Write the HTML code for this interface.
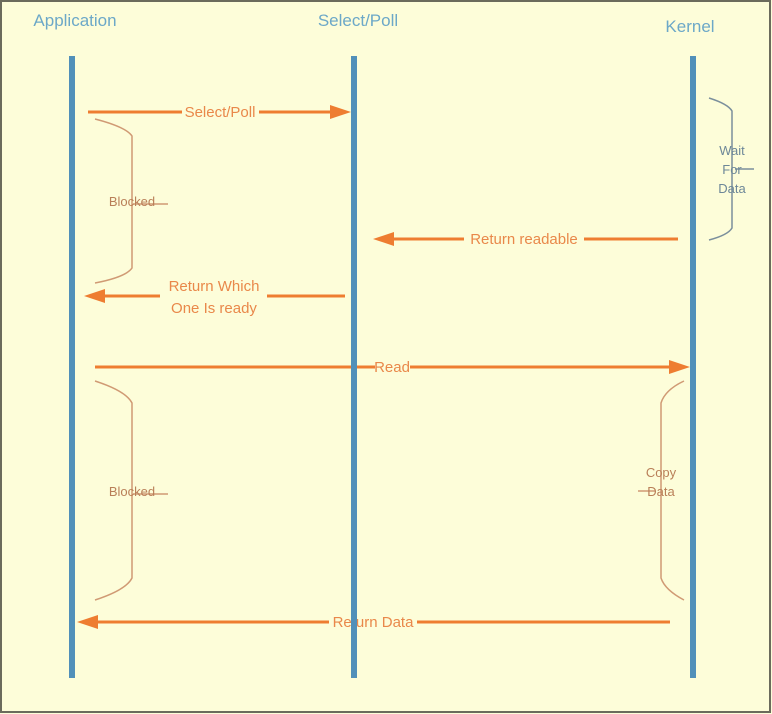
<!DOCTYPE html>
<html>
<head>
<meta charset="utf-8">
<style>
html,body{margin:0;padding:0;background:#fdfdd9;}
svg{display:block;}
text{font-family:"Liberation Sans",sans-serif;}
</style>
</head>
<body>
<svg width="772" height="714" viewBox="0 0 772 714" xmlns="http://www.w3.org/2000/svg">
  <rect x="0" y="0" width="772" height="714" fill="#fdfdd9"/>
  <rect x="1" y="1" width="769" height="711" fill="none" stroke="#6b6b5c" stroke-width="2"/>

  <!-- headers -->
  <text x="75" y="26" font-size="17" fill="#6ca8c8" text-anchor="middle">Application</text>
  <text x="358" y="26" font-size="17" fill="#6ca8c8" text-anchor="middle">Select/Poll</text>
  <text x="690" y="32" font-size="17" fill="#6ca8c8" text-anchor="middle">Kernel</text>

  <!-- braces -->
  <g fill="none" stroke="#d09a74" stroke-width="1.5">
    <path d="M95,119 Q126,127 132,136 L132,268 Q126,277 95,283"/>
    <path d="M95,381 Q126,391 132,403 L132,578 Q126,590 95,600"/>
    <path d="M684,381 Q665,390 661,403 L661,578 Q665,590 684,600"/>
    <line x1="133" y1="204" x2="168" y2="204"/>
    <line x1="133" y1="494" x2="168" y2="494"/>
    <line x1="638" y1="491" x2="655" y2="491"/>
  </g>
  <g fill="none" stroke="#7b8f9c" stroke-width="1.5">
    <path d="M709,98 Q728,104 732,111 L732,228 Q728,235 709,240"/>
    <line x1="735" y1="169" x2="754" y2="169"/>
  </g>
  <g font-size="13" fill="#b97f58" text-anchor="middle">
    <text x="132" y="206">Blocked</text>
    <text x="132" y="496">Blocked</text>
    <text x="661" y="477">Copy</text>
    <text x="661" y="496">Data</text>
  </g>
  <g font-size="13" fill="#6d8798" text-anchor="middle">
    <text x="732" y="155">Wait</text>
    <text x="732" y="174">For</text>
    <text x="732" y="193">Data</text>
  </g>

  <!-- arrows -->
  <g stroke="#ee7d31" stroke-width="3" fill="none">
    <line x1="88" y1="112" x2="182" y2="112"/>
    <line x1="259" y1="112" x2="332" y2="112"/>
    <line x1="392" y1="239" x2="464" y2="239"/>
    <line x1="584" y1="239" x2="678" y2="239"/>
    <line x1="102" y1="296" x2="160" y2="296"/>
    <line x1="267" y1="296" x2="345" y2="296"/>
    <line x1="95" y1="367" x2="375" y2="367"/>
    <line x1="410" y1="367" x2="670" y2="367"/>
    <line x1="95" y1="622" x2="329" y2="622"/>
    <line x1="417" y1="622" x2="670" y2="622"/>
  </g>
  <g fill="#ee7d31">
    <polygon points="351,112 330,105 330,119"/>
    <polygon points="373,239 394,232 394,246"/>
    <polygon points="84,296 105,289 105,303"/>
    <polygon points="690,367 669,360 669,374"/>
    <polygon points="77,622 98,615 98,629"/>
  </g>
  <g font-size="15" fill="#e9884a" text-anchor="middle">
    <text x="220" y="117">Select/Poll</text>
    <text x="524" y="244">Return readable</text>
    <text x="214" y="291">Return Which</text>
    <text x="214" y="313">One Is ready</text>
    <text x="392" y="372">Read</text>
    <text x="373" y="627">Return Data</text>
  </g>

  <!-- lifelines -->
  <g fill="#5190b9">
    <rect x="69" y="56" width="6" height="622"/>
    <rect x="351" y="56" width="6" height="622"/>
    <rect x="690" y="56" width="6" height="622"/>
  </g>
</svg>
</body>
</html>
